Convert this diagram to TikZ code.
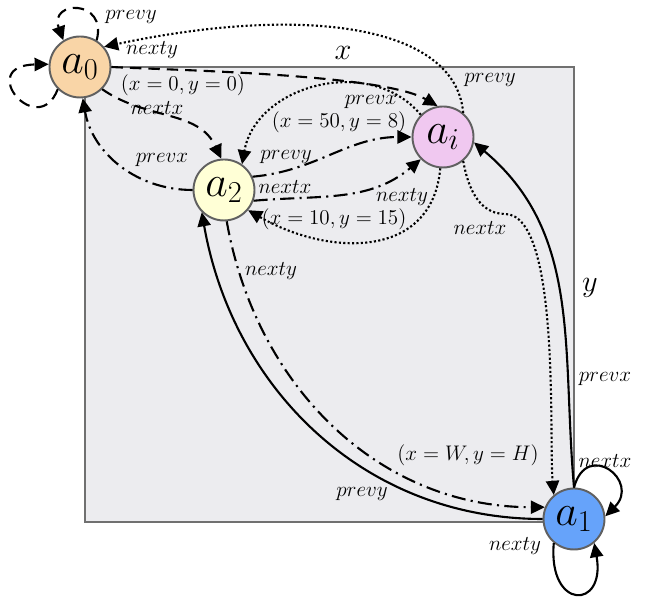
\documentclass[tikz,border=0pt]{standalone}
\usetikzlibrary{arrows.meta}
\definecolor{cellPeach}{HTML}{F9D5A7}
\definecolor{cellLilac}{HTML}{F0C8F0}
\definecolor{cellCream}{HTML}{FFFFD6}
\definecolor{cellBlue}{HTML}{66A3FA}
\definecolor{ringGray}{HTML}{606060}
\definecolor{gridFill}{HTML}{ECECEF}
\definecolor{gridEdge}{HTML}{707070}

\begin{document}
\begin{tikzpicture}[>={Triangle[length=8pt,width=7.5pt]},
      cell/.style={circle, draw=ringGray, line width=1.1pt, minimum size=1.22cm, inner sep=0pt, font=\fontsize{23.5}{26}\selectfont},
      lbl/.style={inner sep=0.5pt, font=\fontsize{12.8}{14}\selectfont},
      axis/.style={inner sep=1pt, font=\fontsize{18}{20}\selectfont},
      link/.style={->, line width=1.2pt},
      solidlink/.style={link},
      dashedlink/.style={link, dash pattern=on 6.5pt off 4pt},
      dottedlink/.style={link, dash pattern=on 1.2pt off 1.3pt},
      dashdotlink/.style={link, dash pattern=on 8pt off 3pt on 1.2pt off 3pt}]
  \useasboundingbox (0,0) rectangle (12.9,11.96);
  % the grid
  \draw[gridEdge, fill=gridFill, line width=1.1pt] (1.7,10.62) rectangle (11.48,1.52);
  \node[axis] (xl) at (6.86,10.9) {$x$};
  \node[axis] (yl) at (11.8,6.2) {$y$};
  % agents
  \node[cell, fill=cellPeach] (a0) at (1.6,10.62) {$a_0$};
  \node[cell, fill=cellCream] (a2) at (4.48,8.16) {$a_2$};
  \node[cell, fill=cellLilac] (ai) at (8.86,9.22) {$a_i$};
  \node[cell, fill=cellBlue] (a1) at (11.48,1.58) {$a_1$};
  % links of a0
  \draw[dashedlink] (a0.58) to[out=75, in=110, looseness=3.3] (a0.122);
  \draw[dashedlink] (a0.-135) .. controls +(-111:1.1) and +(181:1.48) .. (a0.175);
  \draw[dashedlink] (a0.east) to[out=-3, in=150, looseness=0.5] (ai.100);
  \draw[dashedlink] (a0.-45) to[out=-35, in=115] (a2.95);
  % links of a2
  \draw[dashdotlink] (a2.west) to[out=180, in=-80] (a0.-85);
  \draw[dashdotlink] (a2.25) to[out=5, in=180] (ai.west);
  \draw[dashdotlink] (a2.-20) to[out=5, in=220] (ai.-135);
  \draw[dashdotlink] (a2.-85) to[out=-80, in=180] (a1.158);
  % links of ai
  \draw[dottedlink] (ai.135) to[out=130, in=80, looseness=1.1] (a2.55);
  \draw[dottedlink] (ai.-95) to[out=-95, in=-30, looseness=1.2] (a2.-40);
  \draw[dottedlink] (ai.-50) to[out=-80, in=180] (10.1,7.68) to[out=0, in=95, looseness=0.5] (a1.130);
  \draw[dottedlink] (ai.50) .. controls +(95:1.8) and +(12:4) .. (a0.40);
  % links of a1
  \draw[solidlink] (a1.north) to[out=95, in=-40] (ai.-10);
  \draw[solidlink] (a1.west) to[out=180, in=-80] (a2.-135);
  \draw[solidlink] (a1.north) to[out=75, in=45, looseness=3] (a1.5);
  \draw[solidlink] (a1.-130) to[out=-95, in=-80, looseness=4.3] (a1.-50);
  % labels
  \node[lbl] (py0) at (2.62,11.62) {$prevy$};
  \node[lbl] (ny0) at (3.04,10.96) {$nexty$};
  \node[lbl] (xy0) at (3.66,10.25) {$(x=0,y=0)$};
  \node[lbl] (nx0) at (3.14,9.79) {$nextx$};
  \node[lbl] (px2) at (3.24,8.76) {$prevx$};
  \node[lbl] (py2) at (5.72,8.82) {$prevy$};
  \node[lbl] (nx2) at (5.70,8.22) {$nextx$};
  \node[lbl] (xy2) at (6.68,7.58) {$(x=10,y=15)$};
  \node[lbl] (ny2) at (5.42,6.54) {$nexty$};
  \node[lbl] (pxi) at (7.42,9.92) {$prevx$};
  \node[lbl] (xyi) at (6.78,9.52) {$(x=50,y=8)$};
  \node[lbl] (pyi) at (9.80,10.36) {$prevy$};
  \node[lbl] (nyi) at (8.04,8.02) {$nexty$};
  \node[lbl] (nxi) at (9.60,7.40) {$nextx$};
  \node[lbl] (px1) at (12.10,4.38) {$prevx$};
  \node[lbl] (xy1) at (9.36,2.86) {$(x=W,y=H)$};
  \node[lbl] (py1) at (7.24,2.08) {$prevy$};
  \node[lbl] (nx1) at (12.10,2.74) {$nextx$};
  \node[lbl] (ny1) at (10.30,1.04) {$nexty$};
\end{tikzpicture}
\end{document}
